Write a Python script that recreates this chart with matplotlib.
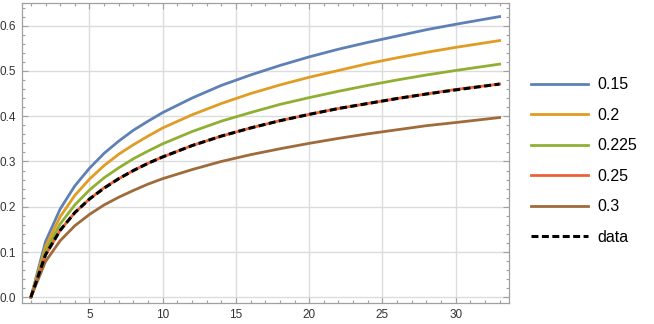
import matplotlib
matplotlib.use("Agg")
import matplotlib.pyplot as plt
from matplotlib.ticker import MultipleLocator, FixedLocator

# values
x_values = [1, 2, 3, 4, 5, 6, 7, 8, 9, 10, 12, 14, 16, 18, 20, 22, 24, 26, 28, 30, 33]

y_015 = [0.0, 0.123, 0.195, 0.246, 0.285, 0.318, 0.345, 0.369, 0.389, 0.408,
         0.440, 0.468, 0.491, 0.512, 0.531, 0.548, 0.563, 0.577, 0.591, 0.603, 0.620]
y_020 = [0.0, 0.112, 0.178, 0.225, 0.261, 0.291, 0.316, 0.337, 0.356, 0.374,
         0.403, 0.428, 0.450, 0.469, 0.486, 0.501, 0.516, 0.529, 0.541, 0.552, 0.567]
y_0225 = [0.0, 0.102, 0.162, 0.204, 0.237, 0.264, 0.286, 0.306, 0.323, 0.339,
          0.366, 0.389, 0.408, 0.426, 0.441, 0.455, 0.468, 0.480, 0.491, 0.501, 0.515]
y_025 = [0.0, 0.093, 0.148, 0.187, 0.217, 0.242, 0.262, 0.280, 0.296, 0.310,
         0.335, 0.356, 0.374, 0.390, 0.404, 0.417, 0.428, 0.439, 0.449, 0.459, 0.471]
y_030 = [0.0, 0.079, 0.125, 0.158, 0.183, 0.204, 0.221, 0.236, 0.250, 0.262,
         0.282, 0.300, 0.315, 0.328, 0.340, 0.351, 0.361, 0.370, 0.379, 0.386, 0.397]
y_data = [0.0, 0.094, 0.148, 0.187, 0.217, 0.241, 0.262, 0.280, 0.296, 0.310,
          0.335, 0.356, 0.374, 0.390, 0.404, 0.417, 0.428, 0.439, 0.449, 0.458, 0.471]

series_labels = ["0.15", "0.2", "0.225", "0.25", "0.3"]
series_values = [y_015, y_020, y_0225, y_025, y_030]
series_colors = ["#5E81B5", "#E19C24", "#8FB032", "#EB6235", "#A06B3A"]

plt.rcParams["font.family"] = ["Arial", "Liberation Sans", "DejaVu Sans"]
plt.rcParams["lines.scale_dashes"] = False

fig = plt.figure(figsize=(6.54, 3.24), dpi=100)
ax = fig.add_axes([21.5 / 654, 20.7 / 324, 487.5 / 654, 300.3 / 324])

for label, values, color in zip(series_labels, series_values, series_colors):
    ax.plot(x_values, values, color=color, linewidth=2.0, label=label,
            solid_joinstyle="round")
ax.plot(x_values, y_data, color="black", linewidth=2.2, dashes=(5, 2.5),
        label="data")

ax.set_xlim(0.36, 33.64)
ax.set_ylim(-0.0133, 0.650)

ax.xaxis.set_major_locator(FixedLocator([5, 10, 15, 20, 25, 30]))
ax.xaxis.set_minor_locator(MultipleLocator(1))
ax.yaxis.set_major_locator(MultipleLocator(0.1))
ax.yaxis.set_minor_locator(MultipleLocator(0.02))
ax.yaxis.set_major_formatter(plt.FuncFormatter(lambda v, p: f"{v:.1f}"))

ax.grid(True, which="major", color="#dcdcdc", linewidth=1.0)
ax.set_axisbelow(True)
for spine in ax.spines.values():
    spine.set_color("#a0a0a0")
    spine.set_linewidth(0.9)

ax.tick_params(which="both", direction="in", top=True, right=True,
               color="#a0a0a0", width=0.8, labelsize=8.5, labelcolor="#333333")
ax.tick_params(which="major", length=4.5, pad=4)
ax.tick_params(which="minor", length=2.5)

fig.legend(
    loc="upper left",
    bbox_to_anchor=(525 / 654, 1 - 71 / 324),
    frameon=False,
    fontsize=11.5,
    handlelength=3.55,
    handletextpad=0.55,
    labelspacing=0.97,
    borderaxespad=0,
)

fig.savefig("out.png", dpi=100)
